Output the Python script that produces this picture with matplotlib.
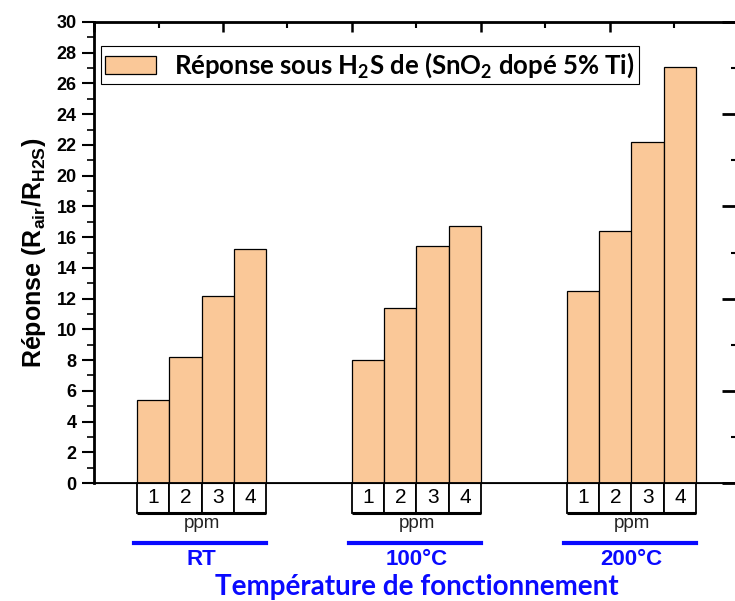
import numpy as np
import matplotlib.pyplot as plt
from matplotlib.patches import Rectangle

# === DATA ===
groups = ["RT", "100°C", "200°C"]
ppm = ["1", "2", "3", "4"]
rt_vals = [5.4, 8.2, 12.2, 15.2]
t100_vals = [8.0, 11.4, 15.4, 16.7]
t200_vals = [12.5, 16.4, 22.2, 27.1]
legend_label = "Réponse sous H$_2$S de (SnO$_2$ dopé 5% Ti)"

values = [rt_vals, t100_vals, t200_vals]

# === STYLE ===
bar_color = "#FAC898"
blue = "#0a0aff"
plt.rcParams["font.family"] = ["Liberation Sans", "DejaVu Sans"]
plt.rcParams["mathtext.default"] = "regular"

fig = plt.figure(figsize=(7.35, 6.01), dpi=100)
ax = fig.add_axes([94 / 735, 1 - 483 / 601, 645 / 735, 461 / 601])

centers = [5 / 6, 15 / 6, 25 / 6]
width = 0.25
offsets = (np.arange(4) - 1.5) * width

for i, (c, vals) in enumerate(zip(centers, values)):
    xs = c + offsets
    ax.bar(xs, vals, width=width, color=bar_color, edgecolor="black", linewidth=0.9,
           label=legend_label if i == 0 else None, zorder=2)
    # ppm boxes under the bars
    for x, lab in zip(xs, ppm):
        ax.add_patch(Rectangle((x - width / 2, -1.95), width, 1.95, facecolor="white",
                               edgecolor="black", linewidth=1.3, clip_on=False))
        ax.text(x, -0.95, lab, ha="center", va="center", fontsize=15, clip_on=False)
    ax.plot([c - 0.5, c + 0.5], [-1.95, -1.95], color="black", lw=2.2,
            clip_on=False, solid_capstyle="butt")
    ax.text(c, -2.65, "ppm", ha="center", va="center", fontsize=13.5, color="#222222")
    ax.plot([c - 0.52, c + 0.5], [-3.9, -3.9], color=blue, lw=3, clip_on=False)
    ax.text(c, -5.0, groups[i], ha="center", va="center", fontsize=16,
            fontweight="bold", color=blue)

ax.text(2.5, -6.75, "Température de fonctionnement", ha="center", va="center",
        fontsize=20, fontweight="bold", color=blue, family=["Lato", "DejaVu Sans"])

ax.set_xlim(0, 5)
ax.set_ylim(0, 30)
ax.set_yticks(np.arange(0, 31, 2))
ax.set_yticks(np.arange(0, 31, 1), minor=True)
for lab in ax.get_yticklabels():
    lab.set_fontweight("bold")
ax.tick_params(axis="y", which="major", direction="out", length=9, width=1.5, labelsize=13)
ax.tick_params(axis="y", which="minor", direction="out", length=5, width=1.2)
ax.tick_params(axis="x", which="both", bottom=False, labelbottom=False,
               top=True, direction="in")
ax.set_xticks(np.arange(0, 5.1, 1))
ax.set_xticks(np.arange(0.5, 5, 1), minor=True)
ax.tick_params(axis="x", which="major", length=7, width=1.8)
ax.tick_params(axis="x", which="minor", length=4, width=1.5)
ax.spines["left"].set_linewidth(2)
ax.spines["top"].set_linewidth(2)
ax.spines["right"].set_linewidth(2)
ax.spines["bottom"].set_linewidth(1.3)

ax2 = ax.twinx()
ax2.set_ylim(0, 30)
ax2.set_yticks(np.arange(0, 31, 6))
ax2.set_yticks(np.arange(3, 31, 6), minor=True)
ax2.tick_params(axis="y", which="major", direction="in", length=12, width=2, labelright=False)
ax2.tick_params(axis="y", which="minor", direction="in", length=6, width=1.5)

ax.set_ylabel("Réponse (R$_{air}$/R$_{H2S}$)", fontsize=18, fontweight="bold", labelpad=6)

leg = ax.legend(loc="upper left", bbox_to_anchor=(0.011, 0.947), borderaxespad=0,
                fancybox=False, edgecolor="black", framealpha=1,
                prop={"family": ["Lato", "DejaVu Sans"], "weight": "bold", "size": 18.5},
                handlelength=2.0, handleheight=0.7, handletextpad=0.7, borderpad=0.15)
leg.get_frame().set_linewidth(0.8)

fig.savefig("out.png", dpi=100)
